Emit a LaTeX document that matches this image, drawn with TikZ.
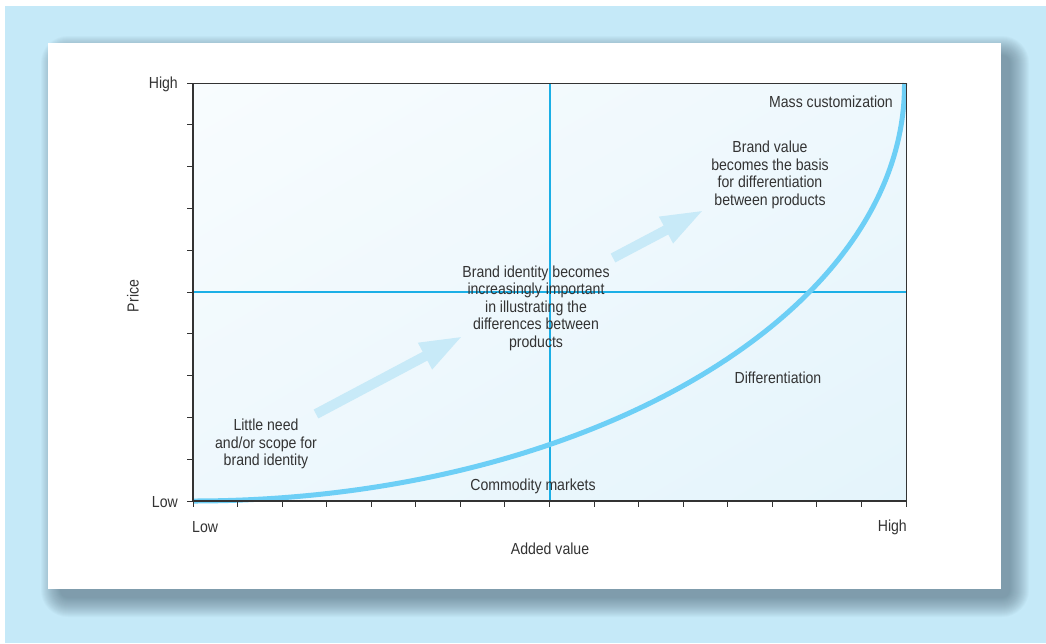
\documentclass[tikz,border=0pt]{standalone}
\usepackage{fontspec}
\setmainfont{Liberation Sans}[FakeStretch=0.88]
\usetikzlibrary{arrows.meta,shadings}
\definecolor{bgblue}{HTML}{C5E9F8}
\definecolor{shadowc}{HTML}{4A6272}
\definecolor{axisc}{HTML}{333333}
\definecolor{quad}{HTML}{1BAFE6}
\definecolor{curvec}{HTML}{6DCFF6}
\definecolor{arrowc}{HTML}{C8EAF8}
\definecolor{txt}{HTML}{333333}
\definecolor{plotA}{HTML}{F8FCFE}
\definecolor{plotB}{HTML}{E4F4FB}
\definecolor{plotC}{HTML}{EEF8FD}
\begin{document}
\begin{tikzpicture}[x=1pt,y=-1pt,
  lbl/.style={text=txt, font=\fontsize{16}{17.5}\selectfont, inner sep=0pt, align=center},
  bigarrow/.style={arrowc, line width=10pt, -{Triangle[length=43pt,width=27pt]}},
  tickline/.style={axisc, line width=1pt},
  quadline/.style={quad, line width=1.3pt},
  axisline/.style={axisc, line width=1.4pt},
  frameline/.style={axisc, line width=1pt},
]
\useasboundingbox (0,0) rectangle (1046,643);
\fill[bgblue] (5,6) rectangle (1046,643);
% soft shadow
\foreach \k in {0,...,19} {
  \pgfmathsetmacro{\rr}{8+\k}
  \fill[shadowc, opacity=0.036, rounded corners=\rr pt]
    (60-\k,55-\k) rectangle (1010+\k,598+\k);
}
% panel
\fill[white] (48,43) rectangle (1001,589);
% plot area
\coordinate (o) at (193,501);
\coordinate (tl) at (193,83);
\coordinate (tr) at (906,83);
\coordinate (br) at (906,501);
\shade[upper left=plotA, upper right=plotC, lower left=plotC, lower right=plotB] (tl) rectangle (br);
% quadrant lines
\coordinate (vtop) at (550,83);
\coordinate (vbot) at (550,501);
\coordinate (hleft) at (193,292);
\coordinate (hright) at (906,292);
\draw[quadline] (vtop) -- (vbot);
\draw[quadline] (hleft) -- (hright);
% big arrows
\coordinate (a1s) at (316,414);
\coordinate (a1e) at (463,336);
\coordinate (a2s) at (613,258);
\coordinate (a2e) at (704,210);
\draw[bigarrow] (a1s) -- (a1e);
\draw[bigarrow] (a2s) -- (a2e);
% curve
\draw[curvec, line width=5pt] (o) .. controls (585,501) and (906,313) .. (904.5,83);
% frame and axes
\draw[frameline] (tl) -- (tr) -- (br);
\draw[axisline] (tl) -- (o) -- (br);
\foreach \k in {0,...,10} {
  \draw[tickline] (187,83+41.8*\k) -- (193,83+41.8*\k);
}
\foreach \k in {0,...,16} {
  \draw[tickline] (193+44.5625*\k,501) -- (193+44.5625*\k,507);
}
% labels
\node[lbl, anchor=east] (yhigh) at (178,84) {High};
\node[lbl, anchor=east] (ylow) at (178,502) {Low};
\node[lbl, anchor=west] (xlow) at (192,527) {Low};
\node[lbl, anchor=east] (xhigh) at (907,527) {High};
\node[lbl] (xtitle) at (550,549) {Added value};
\node[lbl, rotate=90] (ytitle) at (133,296) {Price};
\node[lbl, anchor=east] (mass) at (893,102) {Mass customization};
\node[lbl] (brandvalue) at (770,175) {Brand value\\becomes the basis\\for differentiation\\between products};
\node[lbl] (brandid) at (536,308) {Brand identity becomes\\increasingly important\\in illustrating the\\differences between\\products};
\node[lbl] (diff) at (778,378) {Differentiation};
\node[lbl] (little) at (266,444) {Little need\\and/or scope for\\brand identity};
\node[lbl] (commodity) at (533,486) {Commodity markets};
\end{tikzpicture}
\end{document}
